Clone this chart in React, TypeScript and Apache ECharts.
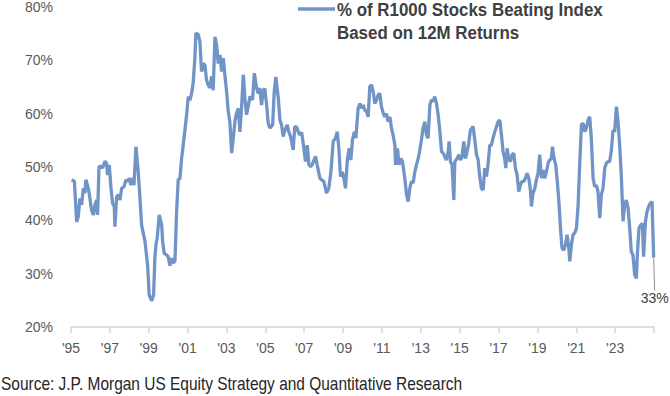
import React, { useEffect, useRef } from "react";
import * as echarts from "echarts";

// Months since Jan 1995 and % of R1000 stocks beating the index
const monthsSince1995: number[] = [
  0.4, 2.1, 3.5, 4.5, 5.5, 6.6, 7.6, 8.6, 9.2, 10.7, 11.7, 12.7, 13.8, 14.8, 15.8, 16.4, 17.3, 18.5, 19.5, 21.0,
  22.0, 22.6, 23.6, 24.7, 25.7, 26.7, 27.1, 28.2, 29.2, 30.2, 31.3, 32.7, 34.0, 35.0, 36.0, 37.0, 38.0, 38.9, 40.1, 41.5,
  42.6, 43.6, 45.7, 47.3, 48.3, 49.8, 51.0, 51.8, 52.5, 53.2, 54.5, 56.0, 56.6, 57.6, 59.0, 60.0, 61.1, 62.1, 63.2, 64.2,
  65.2, 66.2, 67.3, 68.3, 70.0, 71.4, 72.4, 73.4, 74.5, 75.5, 76.5, 77.1, 78.6, 79.6, 80.6, 81.7, 82.7, 83.7, 84.7, 85.8,
  86.8, 87.8,
  88.9, 89.9, 90.9, 92.0, 93.0, 94.0, 95.0, 96.1, 97.1, 98.1, 99.2, 100.2, 101.2, 102.2, 103.3, 104.3, 105.3, 106.4, 107.4, 108.4,
  109.4, 110.5, 112.1, 113.2, 114.6, 115.6, 116.6, 117.7, 118.7, 119.7, 120.8, 121.8, 122.8, 124.5, 125.5, 126.5, 128.0, 129.0, 130.0, 131.0,
  132.1, 133.5, 134.5, 135.6, 137.2, 138.2, 139.3, 140.3, 141.3, 142.4, 143.8, 144.8, 145.9, 146.9, 147.9, 148.9, 150.0, 151.0, 152.0, 153.7,
  154.7, 156.1, 157.8, 159.2, 160.5, 161.9, 163.3, 164.4, 165.4, 166.4, 167.5, 168.5, 169.5, 170.7, 171.8, 172.8, 173.8, 174.9, 175.9, 177.3,
  178.4, 179.4, 180.4, 181.4, 182.5, 183.5, 184.5, 185.6, 186.6, 187.6, 188.6, 189.7, 190.7, 191.7, 192.8, 193.8, 194.8, 195.8, 196.9, 197.9,
  198.9, 200.0, 200.4, 201.6, 202.6, 203.7, 204.7, 206.1, 207.2, 208.2, 209.2, 210.2, 211.3, 212.3, 213.3, 214.4, 215.4, 216.4, 217.4, 218.5,
  219.5, 220.5, 221.6, 222.6, 223.6, 224.6, 225.7, 226.7, 227.7, 228.8, 229.8, 230.8, 231.8, 232.9, 233.5, 234.3, 235.3, 236.4, 237.0, 238.4,
  239.5, 240.5, 241.5, 242.5, 243.6, 244.6, 245.6, 246.6, 248.3, 249.3, 250.4, 251.4, 252.4, 253.4, 254.5, 255.5, 256.5, 257.5, 258.6, 259.6,
  260.6, 261.7, 263.7, 264.8,
  265.8, 266.8, 267.8, 268.5, 269.3, 270.3, 271.3, 272.4, 273.4, 274.4, 275.5, 276.5, 277.5, 278.5, 279.6, 280.6, 281.6, 282.7, 283.7, 284.3,
  285.3, 286.4, 287.4, 288.4, 289.4, 290.5, 291.5, 292.5, 293.6, 294.6, 295.6, 296.6, 297.3, 298.3, 299.3, 300.3, 301.4, 302.4, 303.2, 304.3,
  305.3, 306.3, 307.3, 308.0, 309.0, 310.0, 311.0, 312.1, 313.1, 314.1, 315.2, 316.2, 317.2, 318.2, 319.3, 320.3, 321.3, 322.4, 323.4, 324.4,
  325.4, 326.5, 327.5, 328.5, 329.6, 330.6, 331.6, 332.6, 333.7, 334.7, 335.7, 336.8, 337.8, 338.8, 339.8, 340.9, 341.9, 342.9, 344.0, 345.0,
  346.0, 347.0, 348.1, 349.1, 349.7, 350.7, 351.8, 352.8, 353.6, 354.7, 355.7, 356.7, 357.7, 358.8, 359.8,
];

const pctBeating: number[] = [
  47.6, 47.3, 39.7, 40.7, 44.1, 42.9, 46.0, 45.1, 47.6, 46.0, 44.1, 41.9, 41.0, 42.9, 43.8, 41.0, 50.1, 50.1, 49.8, 51.1,
  50.7, 48.5, 50.4, 46.0, 43.2, 42.6, 38.8, 44.4, 44.8, 43.8, 46.0, 46.3, 47.6, 47.3, 47.9, 46.6, 47.9, 46.6, 53.8, 49.1,
  44.1, 39.1, 36.0, 31.6, 26.0, 24.9, 26.0, 33.0, 35.5, 36.6, 41.0, 39.1, 36.0, 33.8, 33.5, 33.2, 31.5, 32.9, 32.0, 32.4,
  41.6, 47.6, 47.9, 51.6, 56.0, 59.8, 63.2, 62.5, 63.8, 66.0, 70.4, 75.1, 74.8, 73.5, 67.9, 69.4, 69.1, 66.3, 65.4, 64.8,
  67.0, 64.4,
  74.4, 72.9, 69.4, 71.0, 67.9, 70.4, 67.3, 64.1, 60.4, 58.5, 52.6, 55.4, 58.5, 60.1, 61.0, 56.6, 61.0, 67.3, 62.9, 59.8,
  61.3, 63.2, 62.6, 67.6, 64.8, 63.8, 64.8, 61.6, 64.4, 64.7, 61.6, 58.2, 57.3, 57.9, 64.1, 66.9, 62.9, 58.8, 57.9, 55.7,
  56.9, 57.9, 56.6, 55.7, 53.2, 57.6, 57.5, 56.6, 56.0, 56.5, 53.5, 51.0, 54.1, 50.4, 50.1, 50.4, 51.3, 52.0, 50.4, 47.9,
  47.6, 47.3, 45.1, 46.0, 49.1, 54.8, 55.4, 56.6, 53.5, 48.2, 49.1, 47.9, 46.0, 51.6, 53.5, 51.3, 55.1, 56.6, 55.4, 61.0,
  61.9, 61.0, 61.6, 60.7, 60.4, 59.4, 65.1, 65.4, 64.1, 61.9, 62.5, 63.5, 63.8, 61.3, 60.1, 59.4, 60.0, 58.5, 59.4, 57.3,
  56.0, 54.1, 50.4, 53.5, 50.4, 51.6, 51.0, 47.9, 44.8, 43.5, 46.0, 47.3, 47.0, 49.1, 50.4, 51.6, 53.2, 55.1, 57.3, 58.5,
  56.0, 55.4, 61.6, 62.6, 62.3, 63.2, 61.9, 59.8, 56.9, 52.9, 52.6, 51.9, 51.3, 52.9, 54.8, 51.0, 50.4, 43.8, 51.0, 51.6,
  52.3, 51.3, 51.9, 54.8, 51.6, 52.9, 54.4, 56.9, 57.6, 55.1, 52.3, 51.3, 48.2, 46.0, 45.7, 49.8, 48.2, 50.4, 54.1, 54.1,
  55.4, 56.6, 58.5, 58.8,
  56.0, 52.9, 51.6, 49.8, 53.5, 51.6, 51.0, 52.3, 52.6, 49.8, 48.5, 45.4, 46.6, 47.3, 47.3, 47.9, 48.8, 47.9, 45.7, 42.6,
  45.1, 46.0, 47.6, 48.8, 52.3, 47.9, 49.4, 47.9, 49.1, 50.7, 51.3, 51.6, 53.8, 51.6, 50.4, 47.3, 42.9, 37.9, 34.8, 34.4,
  35.4, 37.3, 35.1, 32.3, 35.4, 37.3, 37.6, 38.5, 42.6, 50.4, 57.9, 58.2, 56.6, 57.3, 58.8, 59.4, 55.4, 47.9, 46.3, 46.6,
  45.4, 40.4, 44.8, 46.0, 49.8, 50.7, 51.0, 51.0, 53.2, 56.9, 56.6, 61.3, 58.5, 54.1, 48.5, 39.8, 42.9, 43.8, 42.3, 38.5,
  34.1, 33.5, 29.8, 29.1, 33.5, 38.5, 39.1, 39.4, 33.2, 39.8, 41.6, 42.6, 43.2, 43.5, 33.0,
];

const yTicks = [20, 30, 40, 50, 60, 70, 80];
const startYear = 1995;
const endYear = 2025;
const legendLines = ["% of R1000 Stocks Beating Index", "Based on 12M Returns"];
const sourceText = "Source: J.P. Morgan US Equity Strategy and Quantitative Research";

const FONT = "'Liberation Sans', Arial, sans-serif";
const LINE_COLOR = "#7194C7";

export default function App() {
  const ref = useRef<HTMLDivElement>(null);

  useEffect(() => {
    if (!ref.current) return;
    const chart = echarts.init(ref.current, undefined, { renderer: "svg" });
    const n = pctBeating.length;
    const data = pctBeating.map((v, i) => {
      const pt: any = { value: [monthsSince1995[i] / 12, v] };
      if (i === n - 1) {
        pt.symbol = "circle";
        pt.symbolSize = 1;
        pt.itemStyle = { color: "rgba(0,0,0,0)", borderWidth: 0 };
        pt.label = {
          show: true,
          position: "inside",
          formatter: (p: any) => Math.round(p.value[1]) + "%",
          fontFamily: FONT,
          fontSize: 14,
          color: "#404040",
          opacity: 1,
        };
        pt.labelLine = { show: true, lineStyle: { color: "#9a8f8f", width: 1, opacity: 1 } };
      }
      return pt;
    });

    chart.setOption({
      animation: false,
      grid: { left: 71, right: 16, top: 7, bottom: 69, containLabel: false },
      xAxis: {
        type: "value",
        min: 0,
        max: endYear - startYear,
        interval: 2,
        axisLine: { show: true, lineStyle: { color: "#D4D4D4", width: 1.5 } },
        axisTick: { show: true, length: 6, lineStyle: { color: "#D4D4D4", width: 1.5 } },
        splitLine: { show: false },
        axisLabel: {
          margin: 14,
          fontFamily: FONT,
          fontSize: 14,
          lineHeight: 14,
          color: "#595959",
          formatter: (v: number) => {
            const yr = startYear + Math.round(v);
            if (yr >= endYear) return "";
            return "'" + String(yr % 100).padStart(2, "0");
          },
        },
      },
      yAxis: {
        type: "value",
        min: yTicks[0],
        max: yTicks[yTicks.length - 1],
        interval: 10,
        axisLine: { show: false },
        axisTick: { show: false },
        splitLine: { show: false },
        axisLabel: {
          margin: 18,
          fontFamily: FONT,
          fontSize: 14,
          color: "#595959",
          formatter: "{value}%",
        },
      },
      series: [
        {
          type: "line",
          name: legendLines.join(" "),
          data,
          clip: false,
          symbol: "none",
          showSymbol: true,
          lineStyle: { color: LINE_COLOR, width: 3.3 },
          itemStyle: { color: LINE_COLOR },
          labelLayout: { dx: 1, dy: 40, hideOverlap: false },
          emphasis: { disabled: true },
          z: 3,
        },
      ],
      graphic: [
        {
          type: "line",
          shape: { x1: 298, y1: 9, x2: 335, y2: 9 },
          style: { stroke: LINE_COLOR, lineWidth: 3.3 },
        },
        {
          type: "text",
          x: 337,
          y: 9.5,
          scaleX: 0.89,
          style: {
            text: legendLines[0],
            fontFamily: FONT,
            fontWeight: "bold",
            fontSize: 19,
            fill: "#404040",
            verticalAlign: "middle",
          },
        },
        {
          type: "text",
          x: 337,
          y: 32.5,
          scaleX: 0.89,
          style: {
            text: legendLines[1],
            fontFamily: FONT,
            fontWeight: "bold",
            fontSize: 19,
            fill: "#404040",
            verticalAlign: "middle",
          },
        },
        {
          type: "text",
          x: 1,
          y: 384,
          scaleX: 0.86,
          style: {
            text: sourceText,
            fontFamily: FONT,
            fontSize: 18,
            fill: "#262626",
            verticalAlign: "middle",
          },
        },
      ],
    });

    return () => chart.dispose();
  }, []);

  return (
    <div
      ref={ref}
      style={{ position: "fixed", left: 0, top: 0, width: 670, height: 396, background: "#fff" }}
    />
  );
}
